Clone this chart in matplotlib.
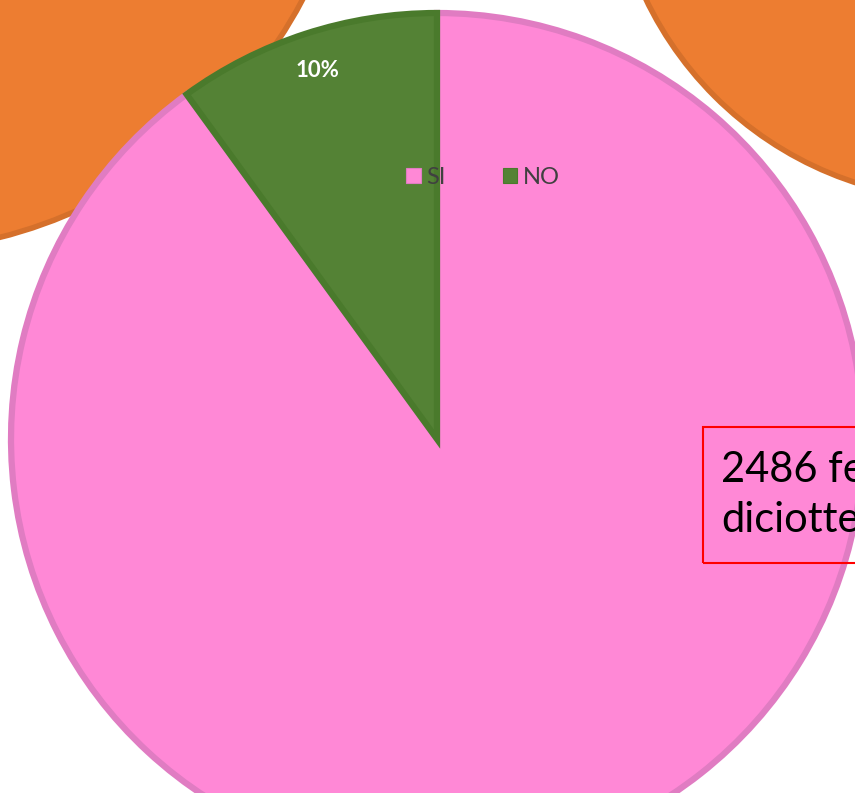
import matplotlib
matplotlib.use("Agg")
import matplotlib.pyplot as plt
from matplotlib.patches import Circle, Rectangle

# data
labels = ["SI", "NO"]
values = [90, 10]
fill_colors = ["#FF88D6", "#548235"]
edge_colors = ["#E07CC2", "#4A7A2C"]
box_text = "2486 femmine\ndiciottenni"

W, H = 855, 793

plt.rcParams["font.family"] = ["Lato", "DejaVu Sans"]

fig = plt.figure(figsize=(W / 100, H / 100), dpi=100)
ax = fig.add_axes([0, 0, 1, 1])

# orange shapes from the neighbouring charts, partly off the slide
orange = "#ED7D31"
orange_edge = "#D5702B"
ax.add_patch(Circle((-117, H + 223), 475, facecolor=orange, edgecolor=orange_edge, lw=4, zorder=1))
ax.add_patch(Circle((965, H + 154), 354, facecolor=orange, edgecolor=orange_edge, lw=4, zorder=1))

# main pie
wedges, texts, autotexts = ax.pie(
    values,
    colors=fill_colors,
    startangle=90,
    counterclock=False,
    center=(437, H - 439),
    radius=426,
    autopct=lambda p: "%d%%" % round(p) if p < 50 else "",
    pctdistance=0.91,
    wedgeprops=dict(linewidth=4.5, zorder=2),
    textprops=dict(color="white", fontsize=16, fontweight="bold"),
)
for w, ec in zip(wedges, edge_colors):
    w.set_edgecolor(ec)
    w.set_zorder(2)
for t in autotexts:
    t.set_zorder(5)

leg = ax.legend(
    wedges, labels,
    loc="center", bbox_to_anchor=(483 / W, 1 - 177 / H),
    ncol=2, frameon=False, fontsize=17,
    handlelength=0.62, handleheight=0.62, handletextpad=0.25,
    columnspacing=2.4, labelcolor="#404040",
)
for h in leg.legend_handles:
    h.set_linewidth(0.8)
leg.set_zorder(6)

# red text box, cut off by the slide edge
ax.add_patch(Rectangle((703, H - 563), 300, 136, facecolor="none", edgecolor="#FF0000", lw=1.5, zorder=7))
ax.text(721, H - 495, box_text, fontsize=30, color="black", va="center", ha="left",
        linespacing=1.4, zorder=8)

ax.set_xlim(0, W)
ax.set_ylim(0, H)
ax.set_aspect("auto")
ax.axis("off")

fig.savefig("out.png", dpi=100)
